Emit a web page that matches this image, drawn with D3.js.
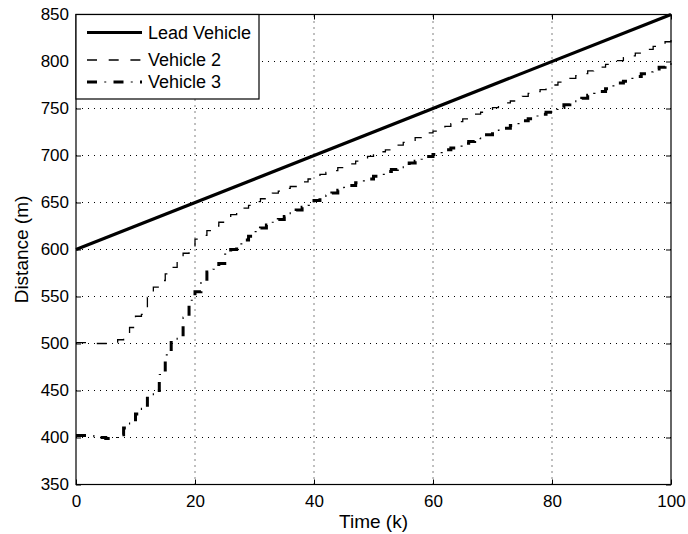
<!DOCTYPE html>
<html>
<head>
<meta charset="utf-8">
<script src="https://cdn.jsdelivr.net/npm/d3@7"></script>
<style>
  html, body { margin: 0; padding: 0; background: #fff; }
  svg { display: block; font-family: "Liberation Sans", Arial, Helvetica, sans-serif; }
</style>
</head>
<body>
<svg id="chart" width="688" height="534"></svg>
<script>
// Time steps k = 0..100
const steps = d3.range(0, 101);

// Lead vehicle travels at constant speed: start and end positions
const leadTimes = [0, 100];
const leadDistance = [600, 850];

// Follower positions (m) at each time step k
const vehicle2 = [
  501, 501, 500, 500, 500, 500, 501, 504, 507, 517,
  529, 531, 549, 560, 567, 574, 581, 588, 596, 603,
  611, 615, 620, 625, 629, 633, 637, 641, 644, 647,
  651, 654, 657, 660, 662, 665, 667, 670, 672, 675,
  677, 680, 682, 684, 687, 689, 691, 694, 696, 699,
  701, 704, 706, 709, 711, 714, 716, 719, 721, 724,
  726, 729, 731, 734, 736, 739, 741, 744, 746, 749,
  751, 754, 756, 758, 761, 763, 766, 768, 770, 773,
  775, 778, 780, 782, 785, 787, 790, 792, 794, 797,
  799, 801, 804, 806, 809, 811, 813, 816, 818, 821,
  823
];
const vehicle3 = [
  402, 402, 402, 401, 400, 399, 400, 403, 410, 416,
  425, 431, 444, 450, 467, 488, 504, 507, 528, 546,
  555, 566, 576, 579, 585, 595, 600, 606, 610, 614,
  619, 623, 626, 629, 632, 635, 639, 642, 645, 647,
  652, 655, 658, 660, 663, 666, 668, 671, 673, 675,
  678, 680, 683, 685, 687, 689, 692, 694, 696, 699,
  701, 703, 706, 708, 710, 713, 715, 718, 720, 722,
  725, 727, 729, 732, 734, 737, 739, 742, 744, 746,
  749, 751, 754, 756, 759, 761, 764, 766, 768, 771,
  774, 777, 779, 782, 784, 787, 789, 792, 794, 797,
  799
];

const xTicks = [0, 20, 40, 60, 80, 100];
const yTicks = [350, 400, 450, 500, 550, 600, 650, 700, 750, 800, 850];
const legendLabels = ["Lead Vehicle", "Vehicle 2", "Vehicle 3"];

const svg = d3.select("#chart");
const plotLeft = 76, plotRight = 671, plotTop = 14.5, plotBottom = 484.5;

const x = d3.scaleLinear().domain([0, 100]).range([plotLeft, plotRight]);
const y = d3.scaleLinear().domain([350, 850]).range([plotBottom, plotTop]);

// Dotted grid
const grid = svg.append("g").attr("stroke", "#000").attr("stroke-width", 1)
  .attr("stroke-dasharray", "1,5").attr("fill", "none");
xTicks.slice(1, -1).forEach(t => {
  grid.append("line").attr("x1", x(t)).attr("x2", x(t)).attr("y1", plotBottom).attr("y2", plotTop);
});
yTicks.slice(1, -1).forEach(t => {
  grid.append("line").attr("x1", plotLeft).attr("x2", plotRight).attr("y1", y(t)).attr("y2", y(t));
});

// Axes with inward ticks
const tickFont = 17, legendFont = 18, titleFont = 19;
const axL = svg.append("g").attr("transform", `translate(${plotLeft},0)`)
  .call(d3.axisLeft(y).tickValues(yTicks).tickSizeInner(-5).tickSizeOuter(0).tickPadding(7));
const axB = svg.append("g").attr("transform", `translate(0,${plotBottom})`)
  .call(d3.axisBottom(x).tickValues(xTicks).tickSizeInner(-5).tickSizeOuter(0).tickPadding(10.5));
const axT = svg.append("g").attr("transform", `translate(0,${plotTop})`)
  .call(d3.axisTop(x).tickValues(xTicks).tickSizeInner(-5).tickSizeOuter(0).tickFormat(""));
const axR = svg.append("g").attr("transform", `translate(${plotRight},0)`)
  .call(d3.axisRight(y).tickValues(yTicks).tickSizeInner(-5).tickSizeOuter(0).tickFormat(""));
[axL, axB, axT, axR].forEach(a => {
  a.select(".domain").remove();
  a.selectAll("text").attr("font-size", tickFont).attr("font-family", "Liberation Sans, Arial, sans-serif").attr("fill", "#000");
  a.selectAll("line").attr("stroke", "#000");
});

// Plot box
svg.append("rect").attr("x", plotLeft).attr("y", plotTop).attr("width", plotRight - plotLeft).attr("height", plotBottom - plotTop)
  .attr("fill", "none").attr("stroke", "#000").attr("stroke-width", 1.2);

// Axis titles
svg.append("text").attr("x", (plotLeft + plotRight) / 2).attr("y", 528).attr("text-anchor", "middle")
  .attr("font-size", titleFont).text("Time (k)");
svg.append("text").attr("transform", `translate(28,${(plotTop + plotBottom) / 2}) rotate(-90)`)
  .attr("text-anchor", "middle").attr("font-size", titleFont).text("Distance (m)");

// Series
const stepLine = d3.line().x((d, i) => x(steps[i])).y(d => y(d)).curve(d3.curveStepAfter);
const leadLine = d3.line().x((d, i) => x(leadTimes[i])).y(d => y(d));

const plot = svg.append("g").attr("fill", "none");
plot.append("path").attr("d", leadLine(leadDistance))
  .attr("stroke", "#000").attr("stroke-width", 3.2);
plot.append("path").attr("d", stepLine(vehicle2))
  .attr("stroke", "#000").attr("stroke-width", 1.3).attr("stroke-dasharray", "10,11.7");

// Dash-dot: heavy dashes with thin dots in the gaps
function dashDot(sel, d) {
  sel.append("path").attr("d", d).attr("stroke", "#000").attr("stroke-width", 3)
    .attr("stroke-dasharray", "10,16.5");
  sel.append("path").attr("d", d).attr("stroke", "#000").attr("stroke-width", 1.2)
    .attr("stroke-dasharray", "2,24.5").attr("stroke-dashoffset", 9.25);
}
dashDot(plot, stepLine(vehicle3));

// Legend
const lg = svg.append("g").attr("fill", "none");
lg.append("rect").attr("x", plotLeft).attr("y", plotTop).attr("width", 259 - plotLeft).attr("height", 99 - plotTop)
  .attr("fill", "#fff").attr("stroke", "#000").attr("stroke-width", 1.2);
const rowsY = [32.5, 60, 82];
const sample = (yy) => `M87,${yy}L142,${yy}`;
lg.append("path").attr("d", sample(rowsY[0])).attr("stroke", "#000").attr("stroke-width", 3.2);
lg.append("path").attr("d", sample(rowsY[1])).attr("stroke", "#000").attr("stroke-width", 1.3)
  .attr("stroke-dasharray", "10,11.7");
dashDot(lg.append("g"), sample(rowsY[2]));
legendLabels.forEach((t, i) => {
  lg.append("text").attr("x", 148).attr("y", rowsY[i]).attr("dy", "0.36em")
    .attr("fill", "#000").attr("font-size", legendFont).text(t);
});
</script>
</body>
</html>
